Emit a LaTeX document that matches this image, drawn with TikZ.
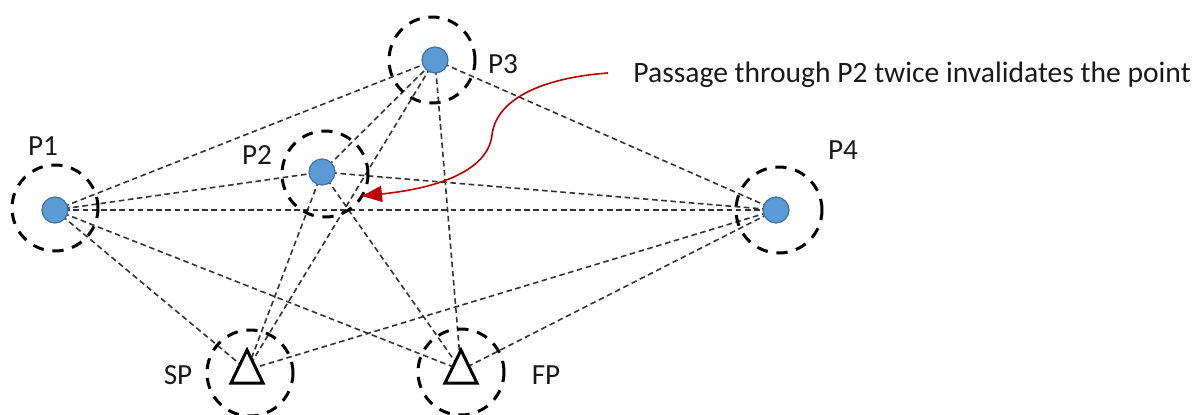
\documentclass[tikz,border=0pt]{standalone}
\usepackage{fontspec}
\setmainfont{Carlito}
\usetikzlibrary{arrows.meta}
\definecolor{dotblue}{HTML}{5B9BD5}
\definecolor{dotedge}{HTML}{41719C}
\definecolor{linkgray}{HTML}{333333}
\definecolor{arrowred}{HTML}{C00000}
\begin{document}
\begin{tikzpicture}[x=0.5pt,y=-0.5pt,
  link/.style={draw=linkgray,line width=0.8pt,dash pattern=on 2.8pt off 1.8pt},
  ring/.style={circle,draw=black,line width=1.5pt,dash pattern=on 5.6pt off 4.4pt,minimum size=43pt,inner sep=0pt},
  dot/.style={circle,fill=dotblue,draw=dotedge,line width=0.6pt,minimum size=13pt,inner sep=0pt},
  tri/.style={draw=black,fill=white,line width=1.5pt,line join=miter},
  lbl/.style={font=\fontsize{14.6}{17}\selectfont,text=black!90,inner sep=0pt},
  note/.style={font=\fontsize{14.8}{18}\selectfont,text=black!90,inner sep=0pt,anchor=base west},
  pointer/.style={draw=arrowred,line width=0.8pt,-{Triangle[length=10pt,width=8pt]}}]
\useasboundingbox (0,0) rectangle (1201,414);

% point positions
\coordinate (p1) at (55,210);
\coordinate (p2) at (322,172);
\coordinate (p3) at (435,60);
\coordinate (p4) at (776,210);
\coordinate (sp) at (247,370);
\coordinate (fp) at (461,370);

% candidate paths between points
\foreach \a/\b in {p1/p2,p1/p3,p1/p4,p1/sp,p1/fp,
                   p2/p3,p2/p4,p2/sp,p2/fp,
                   p3/p4,p3/sp,p3/fp,
                   p4/sp,p4/fp}
  \draw[link] (\a) -- (\b);

% tolerance rings
\node[ring] (r1) at (55,208) {};
\node[ring] (r2) at (325,174) {};
\node[ring] (r3) at (432,60) {};
\node[ring] (r4) at (779,210) {};
\node[ring] (rs) at (250,373) {};
\node[ring] (rf) at (461,372) {};

% waypoints
\node[dot] (P1) at (p1) {};
\node[dot] (P2) at (p2) {};
\node[dot] (P3) at (p3) {};
\node[dot] (P4) at (p4) {};

% start and finish markers
\path[tri] (sp) ++(0,-20) -- ++(16,33) -- ++(-32,0) -- cycle;
\path[tri] (fp) ++(0,-20) -- ++(16,33) -- ++(-32,0) -- cycle;

% labels
\node[lbl] (l1) at (43,146) {P1};
\node[lbl] (l2) at (257,155) {P2};
\node[lbl] (l3) at (503,64) {P3};
\node[lbl] (l4) at (843,150) {P4};
\node[lbl] (ls) at (178,375) {SP};
\node[lbl] (lf) at (546,375) {FP};

% annotation
\node[note] (txt) at (633,82) {Passage through P2 twice invalidates the point};
\coordinate (from) at (608,73);
\coordinate (tip) at (362,196);
\draw[pointer] (from) .. controls (540,78) and (496,100) .. (492,135)
               .. controls (488,170) and (440,188) .. (tip);
\end{tikzpicture}
\end{document}
